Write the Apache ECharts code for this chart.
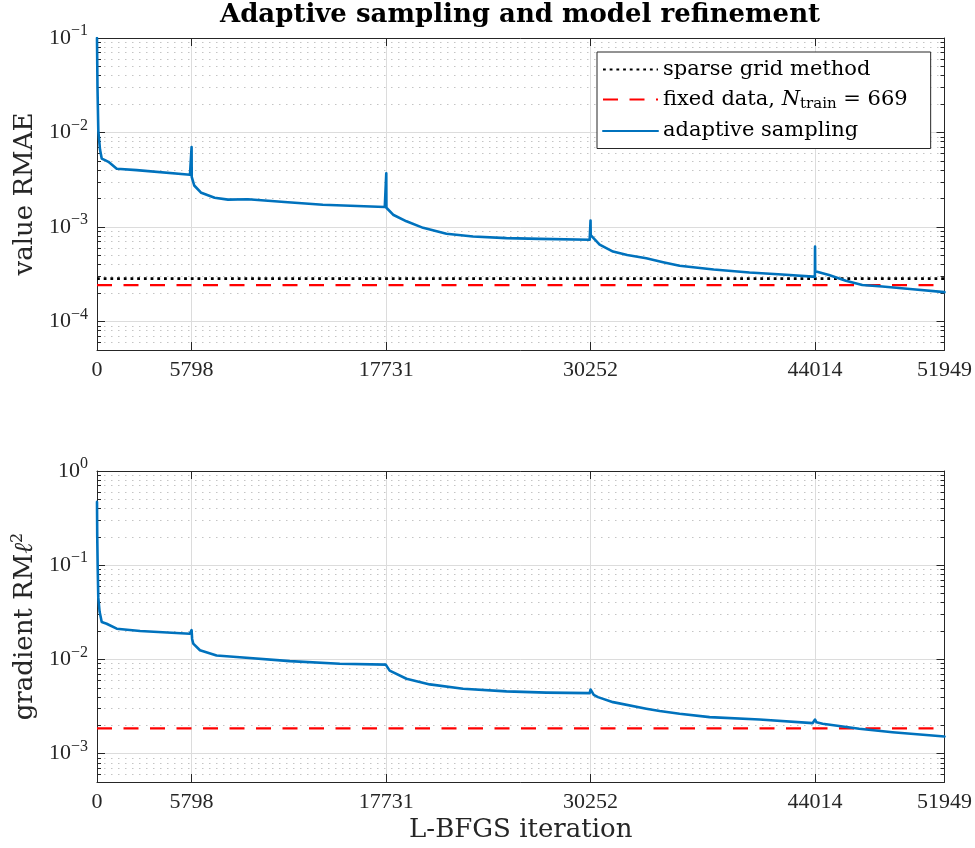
<!DOCTYPE html>
<html>
<head>
<meta charset="utf-8">
<script src="https://cdn.jsdelivr.net/npm/echarts@6/dist/echarts.min.js"></script>
<style>
  html, body { margin: 0; padding: 0; background: #ffffff; }
  #chart { width: 975px; height: 848px; }
</style>
</head>
<body>
<div id="chart"></div>
<script>
// ---- data ----
const xTickValues = [0, 5798, 17731, 30252, 44014, 51949];

const valueIter = [0, 30, 80, 184, 290, 490, 700, 1210, 2430, 5700, 5790, 5798, 5806, 5960, 6390, 7210, 8030, 9250,
  11700, 13840, 17640, 17725, 17731, 17740, 18150, 18970, 19990, 21420, 23050, 25100, 27140, 30200, 30245, 30252,
  30262, 30810, 31630, 32500, 33670, 34700, 35710, 37800, 39990, 42000, 43870, 44005, 44014, 44025, 44870, 45900,
  46910, 48140, 50000, 51949];
const valueRMAE = [0.1, 0.03, 0.0105, 6.6e-3, 5.3e-3, 5.1e-3, 4.9e-3, 4.14e-3, 4.0e-3, 3.58e-3, 3.55e-3, 7.0e-3, 3.4e-3,
  2.75e-3, 2.3e-3, 2.04e-3, 1.95e-3, 1.97e-3, 1.83e-3, 1.72e-3, 1.63e-3, 1.62e-3, 3.7e-3, 1.6e-3, 1.35e-3, 1.15e-3,
  9.8e-4, 8.5e-4, 7.95e-4, 7.64e-4, 7.5e-4, 7.33e-4, 7.3e-4, 1.17e-3, 8.2e-4, 6.5e-4, 5.5e-4, 5.05e-4, 4.68e-4,
  4.25e-4, 3.9e-4, 3.55e-4, 3.3e-4, 3.15e-4, 2.99e-4, 2.97e-4, 6.2e-4, 3.4e-4, 3.1e-4, 2.7e-4, 2.44e-4, 2.35e-4,
  2.2e-4, 2.05e-4];

const gradIter = [0, 15, 40, 80, 160, 290, 590, 1210, 2640, 5690, 5790, 5798, 5830, 5900, 6310, 7330, 8550, 11820,
  14880, 17700, 17731, 17940, 18970, 20400, 22440, 25100, 27550, 30200, 30252, 30450, 30710, 31630, 33670, 34490,
  35710, 37550, 40610, 43870, 44014, 44100, 44480, 46720, 48760, 51949];
const gradRML2 = [0.47, 0.2, 0.1, 0.045, 0.032, 0.0249, 0.0239, 0.0212, 0.0200, 0.0187, 0.0186, 0.0205, 0.0165,
  0.0147, 0.0125, 0.0110, 0.0106, 9.6e-3, 9.0e-3, 8.8e-3, 8.8e-3, 7.6e-3, 6.24e-3, 5.43e-3, 4.89e-3, 4.58e-3,
  4.44e-3, 4.39e-3, 4.8e-3, 4.2e-3, 3.98e-3, 3.52e-3, 3.0e-3, 2.83e-3, 2.65e-3, 2.44e-3, 2.3e-3, 2.11e-3, 2.3e-3,
  2.15e-3, 2.08e-3, 1.84e-3, 1.69e-3, 1.52e-3];

const sparseGridValue = [2.85e-4, 2.85e-4];
const fixedDataValue = [2.43e-4, 2.43e-4];
const fixedDataGrad = [1.85e-3, 1.85e-3];
const refIter = [0, 51949];

const valueRange = [5e-5, 1e-1];
const gradRange = [5e-4, 1];

const seriesNames = ['sparse grid method', 'fixed data, N_train = 669', 'adaptive sampling'];

// ---- styling helpers ----
const AXIS_COLOR = '#262626';
const NUM_FONT = 'Liberation Serif';
const TXT_FONT = 'DejaVu Serif';
const BLUE = '#0072BD';

function pairs(xs, ys) { return xs.map((x, i) => [x, ys[i]]); }

function decades(lo, hi) {
  const out = [];
  for (let e = Math.ceil(Math.log10(lo) - 1e-9); e <= Math.floor(Math.log10(hi) + 1e-9); e++) out.push(Math.pow(10, e));
  return out;
}
function minors(lo, hi) {
  const out = [];
  for (let e = Math.floor(Math.log10(lo)); e <= Math.ceil(Math.log10(hi)); e++) {
    for (let m = 2; m <= 9; m++) {
      const v = m * Math.pow(10, e);
      if (v > lo * 1.0001 && v < hi * 0.9999) out.push(v);
    }
  }
  return out;
}
function powLabel(v) {
  const e = Math.round(Math.log10(v));
  return '{b|10}{s|' + (e < 0 ? '\u2212' + (-e) : String(e)) + '}';
}

const tickRich = {
  b: { fontFamily: NUM_FONT, fontSize: 22, color: '#262626' },
  s: { fontFamily: NUM_FONT, fontSize: 16, color: '#262626', padding: [0, 0, 14, 0] }
};

function yAxes(gridIndex, range, name, nameRich) {
  const maj = decades(range[0], range[1]);
  const mnr = minors(range[0], range[1]);
  const base = { type: 'log', logBase: 10, gridIndex, min: range[0], max: range[1] };
  return [
    Object.assign({}, base, {
      position: 'left',
      name, nameLocation: 'middle', nameRotate: 90, nameGap: 46,
      nameTextStyle: { fontFamily: TXT_FONT, fontSize: 26, color: '#262626', rich: nameRich },
      axisLine: { show: true, lineStyle: { color: AXIS_COLOR, width: 1 } },
      axisTick: { show: true, inside: true, length: 8, customValues: maj, lineStyle: { color: AXIS_COLOR } },
      axisLabel: { show: true, margin: 9, customValues: maj, formatter: powLabel, rich: tickRich },
      splitLine: { show: true, lineStyle: { color: '#dcdcdc', width: 1 } },
      minorTick: { show: false }
    }),
    Object.assign({}, base, {
      position: 'left',
      axisLine: { show: false },
      axisTick: { show: true, inside: true, length: 4, customValues: mnr, lineStyle: { color: AXIS_COLOR } },
      axisLabel: { show: false },
      splitLine: { show: true, lineStyle: { color: '#c4c4c4', width: 1, type: [1.5, 5.5] } }
    }),
    Object.assign({}, base, {
      position: 'right',
      axisLine: { show: true, lineStyle: { color: AXIS_COLOR, width: 1 } },
      axisTick: { show: true, inside: true, length: 8, customValues: maj, lineStyle: { color: AXIS_COLOR } },
      axisLabel: { show: false },
      splitLine: { show: false }
    }),
    Object.assign({}, base, {
      position: 'right',
      axisLine: { show: false },
      axisTick: { show: true, inside: true, length: 4, customValues: mnr, lineStyle: { color: AXIS_COLOR } },
      axisLabel: { show: false },
      splitLine: { show: false }
    })
  ];
}

function xAxes(gridIndex, name) {
  const base = { type: 'value', gridIndex, min: 0, max: 51949 };
  return [
    Object.assign({}, base, {
      position: 'bottom',
      name, nameLocation: 'middle', nameGap: 35,
      nameTextStyle: { fontFamily: TXT_FONT, fontSize: 26, color: '#262626' },
      axisLine: { show: true, onZero: false, lineStyle: { color: AXIS_COLOR, width: 1 } },
      axisTick: { show: true, inside: true, length: 8, customValues: xTickValues, lineStyle: { color: AXIS_COLOR } },
      axisLabel: { show: true, margin: 9, customValues: xTickValues, fontFamily: NUM_FONT, fontSize: 22, color: '#262626',
        formatter: v => String(v) },
      splitLine: { show: true, lineStyle: { color: '#dcdcdc', width: 1 } }
    }),
    Object.assign({}, base, {
      position: 'top',
      axisLine: { show: true, onZero: false, lineStyle: { color: AXIS_COLOR, width: 1 } },
      axisTick: { show: true, inside: true, length: 8, customValues: xTickValues, lineStyle: { color: AXIS_COLOR } },
      axisLabel: { show: false },
      splitLine: { show: false }
    })
  ];
}

const dotted = { color: '#000000', width: 2.8, type: [2.8, 3.9], cap: 'butt' };
const dashed = { color: '#ff0000', width: 2.2, type: [15, 11.5], cap: 'butt' };
const solid = { color: BLUE, width: 2.6, cap: 'round', join: 'round' };

function lineSeries(name, xIdx, yIdx, data, style, z) {
  return {
    type: 'line', name, xAxisIndex: xIdx, yAxisIndex: yIdx, data,
    showSymbol: false, symbol: 'none', lineStyle: style, itemStyle: { color: style.color },
    animation: false, silent: true, z
  };
}

const chart = echarts.init(document.getElementById('chart'), null, { renderer: 'canvas' });

chart.setOption({
  backgroundColor: '#ffffff',
  animation: false,
  title: {
    text: 'Adaptive sampling and model refinement',
    left: 220, top: 0, padding: [2, 0, 4, 0],
    textStyle: { fontFamily: TXT_FONT, fontWeight: 'bold', fontSize: 26, color: '#000000' }
  },
  grid: [
    { left: 97, top: 38, width: 848, height: 312, containLabel: false },
    { left: 97, top: 471, width: 848, height: 311, containLabel: false }
  ],
  xAxis: [].concat(xAxes(0, ''), xAxes(1, 'L-BFGS iteration')),
  yAxis: [].concat(
    yAxes(0, valueRange, 'value RMAE', {}),
    yAxes(1, gradRange, '{t|gradient RM}{l|\u2113}{p|2}', {
      t: { fontFamily: TXT_FONT, fontSize: 26, color: '#262626' },
      l: { fontFamily: TXT_FONT, fontSize: 26, fontStyle: 'italic', color: '#262626' },
      p: { fontFamily: TXT_FONT, fontSize: 16, color: '#262626', padding: [0, 0, 14, 0] }
    })
  ),
  legend: {
    show: true,
    data: seriesNames,
    orient: 'vertical',
    left: 597, top: 52,
    padding: [7, 23, 7, 5],
    itemWidth: 55, itemHeight: 24, itemGap: 9,
    backgroundColor: '#ffffff',
    borderColor: AXIS_COLOR, borderWidth: 1,
    selectedMode: false,
    itemStyle: { color: 'rgba(0,0,0,0)', borderColor: 'rgba(0,0,0,0)', borderWidth: 0 },
    formatter: n => n === seriesNames[1]
      ? '{t|fixed data, }{i|N}{sb|train}{t| = 669}'
      : '{t|' + n + '}',
    textStyle: {
      fontFamily: TXT_FONT, fontSize: 21, color: '#000000',
      rich: {
        t: { fontFamily: TXT_FONT, fontSize: 21, color: '#000000', lineHeight: 24 },
        i: { fontFamily: TXT_FONT, fontSize: 21, fontStyle: 'italic', color: '#000000', lineHeight: 24 },
        sb: { fontFamily: TXT_FONT, fontSize: 15, color: '#000000', padding: [9, 0, 0, 0] }
      }
    }
  },
  series: [
    lineSeries(seriesNames[0], 0, 0, pairs(refIter, sparseGridValue), dotted, 2),
    lineSeries(seriesNames[1], 0, 0, pairs(refIter, fixedDataValue), dashed, 3),
    lineSeries(seriesNames[2], 0, 0, pairs(valueIter, valueRMAE), solid, 4),
    lineSeries(seriesNames[1], 2, 4, pairs(refIter, fixedDataGrad), dashed, 3),
    lineSeries(seriesNames[2], 2, 4, pairs(gradIter, gradRML2), solid, 4)
  ]
});
</script>
</body>
</html>
